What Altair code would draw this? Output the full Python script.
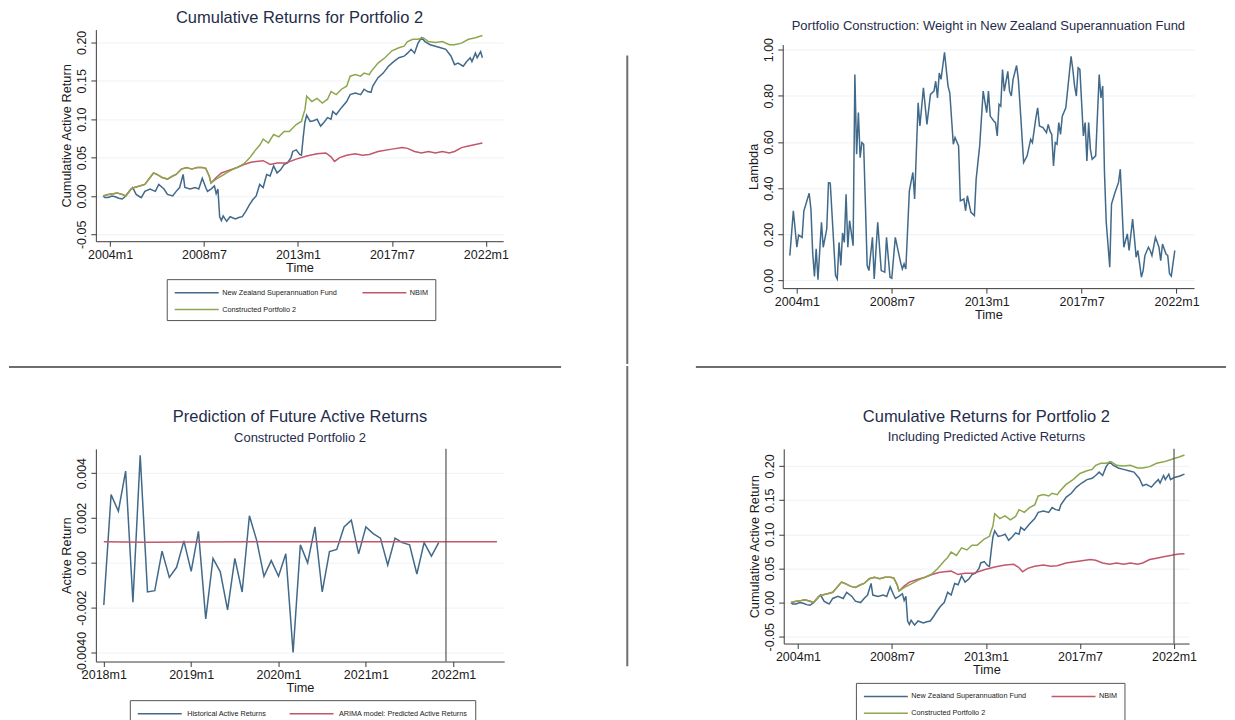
import altair as alt
import pandas as pd

FONT = "Liberation Sans"
TITLE_COLOR = "#1f2c4a"
TEXT_COLOR = "#1a1a1a"
AXIS_COLOR = "#3a3a3a"
GRID_COLOR = "#eef1f4"
SEP_COLOR = "#6e6e6e"
BLUE = "#41698a"
RED = "#c2566b"
GREEN = "#8ea64e"

# ---------------- data (months counted from 2004m1, 0 = 2004m1) ----------------
nzsf_t = [-4, -3, -1, 1, 3, 5, 7, 9, 11, 13, 15, 17, 18, 20, 23, 26, 28, 31, 33, 36,
          38, 40, 42, 43, 46, 49, 51, 53, 55, 56, 58, 60, 61, 62, 63, 64, 65, 67, 69, 72,
          74, 76, 78, 80, 82, 84, 86, 88, 90, 92, 94, 96, 98, 100, 102, 104, 105, 107, 109, 110,
          111, 112, 113, 115, 117, 119, 121, 123, 125, 127, 128, 130, 133, 136, 138, 141, 144, 146, 148, 150,
          151, 154, 157, 160, 163, 166, 169, 171, 173, 175, 177, 179, 181, 184, 187, 190, 193, 196, 198, 200,
          203, 205, 207, 208, 210, 211, 213, 214]
nzsf_v = [0.000, -0.002, -0.002, 0.000, -0.001, -0.003, -0.004, 0.000, 0.006, 0.011,
          0.002, -0.001, -0.002, 0.006, 0.009, 0.006, 0.015, 0.009, 0.002, 0.000,
          0.006, 0.011, 0.028, 0.011, 0.009, 0.011, 0.009, 0.023, 0.011, 0.006,
          0.009, 0.013, 0.003, 0.009, -0.027, -0.032, -0.026, -0.033, -0.027, -0.030,
          -0.028, -0.027, -0.020, -0.012, -0.005, 0.000, 0.015, 0.011, 0.028, 0.026,
          0.039, 0.030, 0.034, 0.041, 0.043, 0.050, 0.058, 0.060, 0.054, 0.053,
          0.076, 0.096, 0.105, 0.097, 0.098, 0.100, 0.091, 0.096, 0.102, 0.100,
          0.110, 0.106, 0.115, 0.123, 0.132, 0.134, 0.132, 0.139, 0.136, 0.135,
          0.143, 0.154, 0.160, 0.169, 0.175, 0.180, 0.182, 0.186, 0.191, 0.186,
          0.199, 0.206, 0.201, 0.197, 0.195, 0.193, 0.191, 0.182, 0.171, 0.173,
          0.169, 0.175, 0.180, 0.175, 0.186, 0.180, 0.188, 0.180]

nbim_t = [-4, -1, 2, 4, 7, 9, 12, 14, 17, 20, 23, 25, 27, 30, 33, 36, 38, 41, 44, 47,
          50, 53, 55, 57, 58, 61, 64, 69, 73, 77, 81, 84, 88, 92, 96, 101, 107, 113, 119, 124,
          127, 129, 132, 136, 141, 145, 149, 154, 162, 168, 171, 175, 179, 183, 187, 191, 195, 198, 202, 206,
          210, 214]
nbim_v = [0.000, 0.002, 0.003, 0.004, 0.002, 0.000, 0.009, 0.011, 0.013, 0.015,
          0.024, 0.030, 0.028, 0.024, 0.022, 0.026, 0.028, 0.035, 0.037, 0.035,
          0.037, 0.037, 0.036, 0.026, 0.017, 0.024, 0.030, 0.034, 0.037, 0.041,
          0.044, 0.045, 0.046, 0.041, 0.043, 0.043, 0.048, 0.052, 0.055, 0.056,
          0.051, 0.045, 0.050, 0.053, 0.055, 0.053, 0.054, 0.058, 0.061, 0.063,
          0.062, 0.058, 0.056, 0.058, 0.056, 0.058, 0.056, 0.058, 0.063, 0.065,
          0.067, 0.069]

cp2_t = [-4, -1, 2, 4, 7, 9, 12, 14, 17, 20, 23, 25, 27, 30, 33, 36, 38, 41, 44, 47,
         50, 53, 55, 57, 58, 61, 64, 67, 70, 73, 77, 80, 82, 84, 86, 88, 91, 94, 97, 100,
         103, 107, 110, 111, 112, 113, 116, 119, 122, 125, 127, 130, 133, 136, 138, 141, 144, 146, 149, 150,
         154, 158, 162, 166, 169, 171, 174, 177, 180, 183, 187, 191, 195, 198, 202, 206, 210, 214]
cp2_v = [0.000, 0.002, 0.003, 0.004, 0.002, 0.000, 0.009, 0.011, 0.013, 0.015,
         0.024, 0.030, 0.028, 0.024, 0.022, 0.026, 0.028, 0.035, 0.037, 0.035,
         0.037, 0.037, 0.036, 0.026, 0.017, 0.022, 0.026, 0.030, 0.034, 0.037,
         0.042, 0.049, 0.055, 0.061, 0.066, 0.074, 0.069, 0.080, 0.077, 0.084,
         0.084, 0.093, 0.097, 0.105, 0.112, 0.130, 0.123, 0.127, 0.121, 0.126,
         0.136, 0.132, 0.139, 0.143, 0.156, 0.158, 0.156, 0.160, 0.158, 0.162,
         0.173, 0.180, 0.189, 0.193, 0.195, 0.201, 0.204, 0.204, 0.206, 0.201,
         0.200, 0.201, 0.197, 0.197, 0.199, 0.204, 0.206, 0.209]

# predicted continuation (bottom-right panel)
nzsf_pred_t = [216, 219, 222]
nzsf_pred_v = [0.183, 0.185, 0.188]
nbim_pred_t = [216, 219, 222]
nbim_pred_v = [0.070, 0.071, 0.0715]
cp2_pred_t = [216, 219, 222]
cp2_pred_v = [0.211, 0.213, 0.216]

# weight (lambda) in New Zealand Superannuation Fund
lam_t = [-4, -2, 0, 1, 3, 4, 7, 8, 9, 10, 11, 12, 14, 15, 17, 18, 19, 22, 23, 24,
         25, 26, 27, 28, 29, 30, 32, 33, 34, 35, 36, 37, 38, 40, 41, 43, 44, 46, 48, 50,
         51, 53, 54, 56, 59, 60, 61, 62, 64, 66, 67, 69, 70, 72, 74, 76, 78, 79, 80, 81,
         82, 84, 86, 87, 89, 90, 92, 93, 95, 96, 97, 99, 101, 102, 104, 106, 108, 109, 110, 112,
         113, 114, 115, 116, 117, 118, 120, 121, 122, 123, 125, 126, 127, 129, 131, 133, 134, 136, 137, 138,
         140, 142, 143, 144, 145, 146, 147, 148, 149, 150, 151, 153, 156, 157, 158, 159, 160, 161, 163, 164,
         165, 166, 167, 168, 170, 172, 173, 174, 175, 176, 178, 179, 181, 183, 184, 186, 188, 189, 191, 192,
         193, 194, 196, 197, 198, 200, 201, 202, 204, 206, 207, 208, 210, 211, 212, 213, 215]
lam_v = [0.108, 0.302, 0.144, 0.197, 0.187, 0.302, 0.378, 0.309, 0.120, 0.018,
         0.137, 0.004, 0.252, 0.144, 0.223, 0.424, 0.422, 0.022, 0.007, 0.165,
         0.065, 0.206, 0.165, 0.374, 0.144, 0.259, 0.151, 0.892, 0.547, 0.727,
         0.532, 0.597, 0.590, 0.065, 0.043, 0.187, 0.007, 0.252, 0.043, 0.036,
         0.187, 0.014, 0.010, 0.187, 0.079, 0.050, 0.072, 0.050, 0.388, 0.468,
         0.353, 0.770, 0.669, 0.835, 0.676, 0.806, 0.820, 0.863, 0.791, 0.899,
         0.871, 0.988, 0.842, 0.813, 0.590, 0.619, 0.583, 0.345, 0.353, 0.302,
         0.367, 0.295, 0.281, 0.439, 0.583, 0.820, 0.727, 0.820, 0.712, 0.691,
         0.684, 0.626, 0.763, 0.755, 0.914, 0.820, 0.906, 0.820, 0.799, 0.871,
         0.931, 0.871, 0.755, 0.511, 0.540, 0.611, 0.597, 0.705, 0.748, 0.669,
         0.662, 0.640, 0.676, 0.647, 0.633, 0.496, 0.597, 0.590, 0.684, 0.633,
         0.712, 0.748, 0.971, 0.914, 0.842, 0.799, 0.921, 0.914, 0.626, 0.684,
         0.518, 0.684, 0.568, 0.525, 0.540, 0.892, 0.791, 0.842, 0.468, 0.252,
         0.058, 0.331, 0.381, 0.425, 0.482, 0.144, 0.202, 0.130, 0.266, 0.187,
         0.101, 0.130, 0.015, 0.043, 0.108, 0.144, 0.130, 0.108, 0.187, 0.144,
         0.086, 0.158, 0.115, 0.108, 0.029, 0.019, 0.130]

# monthly active returns of Constructed Portfolio 2 (months counted from 2018m1)
hist_t = list(range(47))
hist_v = [-0.00188, 0.00304, 0.0023, 0.00409, -0.00176, 0.00479, -0.0013, -0.00124, 0.00052, -0.00065,
          -0.0002, 0.00098, -0.00038, 0.0014, -0.0025, 0.0002, -0.0004, -0.0021, 0.0002, -0.0013,
          0.0021, 0.0010, -0.0006, 0.0001, -0.0006, 0.0004, -0.0040, 0.0008, 0.0000, 0.0016,
          -0.0013, 0.0005, 0.0006, 0.0016, 0.0019, 0.0004, 0.0016, 0.0013, 0.0011, -0.0001,
          0.0011, 0.0009, 0.0008, -0.0005, 0.0009, 0.0003, 0.0009]
arima_t = [0, 6, 12, 24, 36, 48, 54]
arima_v = [0.00094, 0.00092, 0.00093, 0.00094, 0.00094, 0.00094, 0.00094]

SERIES = ["New Zealand Superannuation Fund", "NBIM", "Constructed Portfolio 2"]
PRED_SERIES = ["Historical Active Returns", "ARIMA model: Predicted Active Returns"]
LONG_TICKS = [2004, 2008.5, 2013, 2017.5, 2022]
SHORT_TICKS = [2018, 2019, 2020, 2021, 2022]
CUM_TICKS = [-0.05, 0.0, 0.05, 0.10, 0.15, 0.20]
LAM_TICKS = [0.0, 0.2, 0.4, 0.6, 0.8, 1.0]
AR_TICKS = [-0.004, -0.002, 0.0, 0.002, 0.004]


def ym(t, base):
    return base + t / 12.0


def long_frame(parts, base):
    rows = []
    for name, ts, vs in parts:
        for t, v in zip(ts, vs):
            rows.append({"year": ym(t, base), "value": v, "series": name})
    return pd.DataFrame(rows)


XLAB = "floor(datum.value) + 'm' + (round((datum.value - floor(datum.value)) * 12) + 1)"
MINUS = "\u2212"
Y2 = "replace(format(datum.value, '.2f'), '" + MINUS + "', '-')"
Y_AR = ("datum.value < -0.003 ? '-0.0040' : (datum.value == 0 ? '0.00' : "
        "replace(format(datum.value, '.3f'), '" + MINUS + "', '-'))")


def xaxis(values):
    return alt.Axis(values=values, labelExpr=XLAB, title="Time", grid=False,
                    labelFlush=False, labelOverlap=False, tickSize=5,
                    labelPadding=2, titlePadding=1)


def yaxis(values, title, expr):
    return alt.Axis(values=values, labelExpr=expr, title=title, grid=True,
                    gridColor=GRID_COLOR, labelAngle=-90, labelAlign="center",
                    labelBaseline="bottom", labelOverlap=False, tickSize=5,
                    labelPadding=2, titlePadding=2)


def rule(x1, x2, y1, y2, opacity=1.0, cap="butt"):
    return alt.Chart(pd.DataFrame({"k": [0]})).mark_rule(
        color=SEP_COLOR, strokeWidth=2, opacity=opacity, strokeCap=cap
    ).encode(x=alt.value(x1), x2=alt.value(x2), y=alt.value(y1), y2=alt.value(y2))


def spacer(h):
    return alt.Chart(pd.DataFrame({"k": [0]})).mark_rule(opacity=0).encode(
        x=alt.value(0), x2=alt.value(1), y=alt.value(0), y2=alt.value(0)
    ).properties(width=1, height=h)


def legend(lx, ly, gap, colpad):
    # a 44 px long horizontal stroke as the legend symbol
    return alt.Legend(title=None, orient="none", legendX=lx, legendY=ly, columns=2,
                      direction="horizontal", symbolType="M-4,0H4", symbolSize=121,
                      symbolOffset=16.5, symbolStrokeWidth=1.5, labelFont=FONT,
                      labelFontSize=7.3, labelColor=TEXT_COLOR, labelOffset=13 + gap,
                      columnPadding=colpad, rowPadding=7, padding=7,
                      strokeColor="#555555", fillColor="white", labelLimit=400)


# ---------------- panel 1: cumulative returns ----------------
df_tl = long_frame([(SERIES[0], nzsf_t, nzsf_v), (SERIES[1], nbim_t, nbim_v),
                    (SERIES[2], cp2_t, cp2_v)], 2004)
tl_lines = alt.Chart(df_tl).mark_line(strokeWidth=1.5).encode(
    x=alt.X("year:Q", scale=alt.Scale(domain=[2003.32, 2022.83], nice=False, zero=False),
            axis=xaxis(LONG_TICKS)),
    y=alt.Y("value:Q", scale=alt.Scale(domain=[-0.0589, 0.2167], nice=False, zero=False),
            axis=yaxis(CUM_TICKS, "Cumulative Active Return", Y2)),
    color=alt.Color("series:N", sort=SERIES,
                    scale=alt.Scale(domain=SERIES, range=[BLUE, RED, GREEN]),
                    legend=legend(71, 250, 6, 22)),
)
tl = alt.layer(
    tl_lines,
    rule(532.3, 532.3, 27, 334, cap="square"),
).properties(
    width=408, height=212,
    title=alt.TitleParams("Cumulative Returns for Portfolio 2", fontSize=16.5, offset=3,
                          frame="group", anchor="middle"),
)

# ---------------- panel 2: lambda ----------------
df_tr = pd.DataFrame({"year": [ym(t, 2004) for t in lam_t], "value": lam_v})
tr_line = alt.Chart(df_tr).mark_line(strokeWidth=1.5, color=BLUE).encode(
    x=alt.X("year:Q", scale=alt.Scale(domain=[2003.33, 2022.83], nice=False, zero=False),
            axis=xaxis(LONG_TICKS)),
    y=alt.Y("value:Q", scale=alt.Scale(domain=[-0.033, 1.022], nice=False, zero=False),
            axis=yaxis(LAM_TICKS, "Lambda", Y2)),
)
tr = alt.layer(
    tr_line,
    rule(-88, -88, 100, 110, opacity=0.0),
).properties(
    width=412, height=244,
    title=alt.TitleParams("Portfolio Construction: Weight in New Zealand Superannuation Fund",
                          fontSize=13, offset=4, frame="group", anchor="middle"),
)

# ---------------- panel 3: prediction of active returns ----------------
df_bl = long_frame([(PRED_SERIES[0], hist_t, hist_v), (PRED_SERIES[1], arima_t, arima_v)], 2018)
bl_lines = alt.Chart(df_bl).mark_line(strokeWidth=1.5).encode(
    x=alt.X("year:Q", scale=alt.Scale(domain=[2017.909, 2022.583], nice=False, zero=False),
            axis=xaxis(SHORT_TICKS)),
    y=alt.Y("value:Q", scale=alt.Scale(domain=[-0.0044, 0.00508], nice=False, zero=False),
            axis=yaxis(AR_TICKS, "Active Return", Y_AR)),
    color=alt.Color("series:N", sort=PRED_SERIES,
                    scale=alt.Scale(domain=PRED_SERIES, range=[BLUE, RED]),
                    legend=legend(34, 251.7, 8, 20)),
)
bl_vline = alt.Chart(pd.DataFrame({"year": [ym(47, 2018)]})).mark_rule(
    color="#555555", strokeWidth=1.2).encode(x="year:Q")
bl = alt.layer(
    bl_lines,
    bl_vline,
    rule(532.3, 532.3, -82, 216.7, cap="square"),
    rule(-87, 466, -82, -82),
).properties(
    width=409, height=213,
    title=alt.TitleParams("Prediction of Future Active Returns", subtitle="Constructed Portfolio 2",
                          fontSize=16.5, subtitleFontSize=13, subtitlePadding=6, offset=-79.5,
                          frame="group", anchor="middle"),
)

# ---------------- panel 4: cumulative incl. predicted ----------------
df_br = long_frame([(SERIES[0], nzsf_t + nzsf_pred_t, nzsf_v + nzsf_pred_v),
                    (SERIES[1], nbim_t + nbim_pred_t, nbim_v + nbim_pred_v),
                    (SERIES[2], cp2_t + cp2_pred_t, cp2_v + cp2_pred_v)], 2004)
br_lines = alt.Chart(df_br).mark_line(strokeWidth=1.5).encode(
    x=alt.X("year:Q", scale=alt.Scale(domain=[2003.32, 2022.72], nice=False, zero=False),
            axis=xaxis(LONG_TICKS)),
    y=alt.Y("value:Q", scale=alt.Scale(domain=[-0.06, 0.225], nice=False, zero=False),
            axis=yaxis(CUM_TICKS, "Cumulative Active Return", Y2)),
    color=alt.Color("series:N", sort=SERIES,
                    scale=alt.Scale(domain=SERIES, range=[BLUE, RED, GREEN]),
                    legend=legend(72.3, 234.4, 6, 22)),
)
br_vline = alt.Chart(pd.DataFrame({"year": [2022.0]})).mark_rule(
    color="#555555", strokeWidth=1.2).encode(x="year:Q")
br = alt.layer(
    br_lines,
    br_vline,
    rule(-88, 443, -82, -82),
).properties(
    width=406, height=195,
    title=alt.TitleParams("Cumulative Returns for Portfolio 2",
                          subtitle="Including Predicted Active Returns",
                          fontSize=16.5, subtitleFontSize=13, subtitlePadding=6, offset=-78.5,
                          frame="group", anchor="middle"),
)


def indep(c):
    return c.resolve_scale(x="independent", y="independent", color="independent") \
            .resolve_legend(color="independent")


left_top = indep(alt.vconcat(spacer(1), tl, spacing=0))
right_top = indep(alt.vconcat(spacer(11), tr, spacing=0))
top_row = indep(alt.hconcat(left_top, right_top, spacing=66))
bottom_row = indep(alt.hconcat(bl, br, spacing=66))
chart = indep(alt.vconcat(top_row, bottom_row, spacing=0)).properties(
    padding={"left": 0, "top": 0, "right": 0, "bottom": 0}
).configure_view(stroke=None).configure_axis(
    labelFont=FONT, titleFont=FONT, labelFontSize=12.5, titleFontSize=12.8,
    titleFontWeight="normal", domainColor=AXIS_COLOR, tickColor=AXIS_COLOR,
    labelColor=TEXT_COLOR, titleColor=TEXT_COLOR,
).configure_title(
    font=FONT, fontWeight="normal", color=TITLE_COLOR,
    subtitleFont=FONT, subtitleColor=TITLE_COLOR,
)

chart.save("out.html", embed_options={"renderer": "svg", "actions": False})
